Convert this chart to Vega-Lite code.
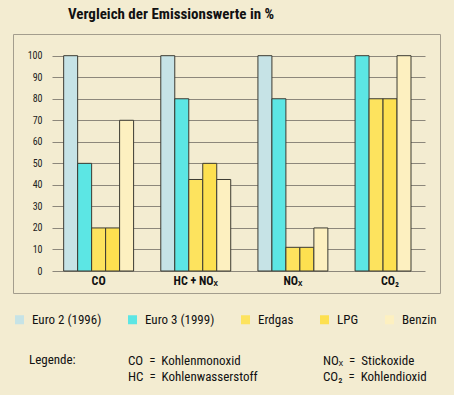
{
  "$schema": "https://vega.github.io/schema/vega-lite/v6.json",
  "width": 427,
  "height": 259,
  "autosize": {"type": "none"},
  "padding": {"left": 13, "top": 34, "right": 14, "bottom": 102},
  "background": "#f3ecd1",
  "title": {
    "text": "Vergleich der Emissionswerte in %",
    "anchor": "start",
    "frame": "group",
    "dx": 55,
    "offset": 12,
    "font": "Liberation Sans Narrow, Roboto Condensed, Arial Narrow, sans-serif",
    "fontSize": 15,
    "fontWeight": "bold",
    "color": "#111111"
  },
  "config": {
    "view": {"fill": "#fdf6ea", "stroke": "#a39d8d", "strokeWidth": 1}
  },
  "layer": [
    {
      "data": {
        "values": [
          {"category": "CO", "series": "Euro 2 (1996)", "value": 100},
          {"category": "CO", "series": "Euro 3 (1999)", "value": 50},
          {"category": "CO", "series": "Erdgas", "value": 20},
          {"category": "CO", "series": "LPG", "value": 20},
          {"category": "CO", "series": "Benzin", "value": 70},
          {"category": "HC + NOₓ", "series": "Euro 2 (1996)", "value": 100},
          {"category": "HC + NOₓ", "series": "Euro 3 (1999)", "value": 80},
          {"category": "HC + NOₓ", "series": "Erdgas", "value": 42.5},
          {"category": "HC + NOₓ", "series": "LPG", "value": 50},
          {"category": "HC + NOₓ", "series": "Benzin", "value": 42.5},
          {"category": "NOₓ", "series": "Euro 2 (1996)", "value": 100},
          {"category": "NOₓ", "series": "Euro 3 (1999)", "value": 80},
          {"category": "NOₓ", "series": "Erdgas", "value": 11},
          {"category": "NOₓ", "series": "LPG", "value": 11},
          {"category": "NOₓ", "series": "Benzin", "value": 20},
          {"category": "CO₂", "series": "Euro 3 (1999)", "value": 100},
          {"category": "CO₂", "series": "Erdgas", "value": 80},
          {"category": "CO₂", "series": "LPG", "value": 80},
          {"category": "CO₂", "series": "Benzin", "value": 100}
        ]
      },
      "transform": [
        {"window": [{"op": "row_number", "as": "slot"}], "groupby": ["category"]}
      ],
      "mark": {"type": "bar", "stroke": "#3b3a32", "strokeWidth": 1},
      "encoding": {
        "x": {
          "field": "category",
          "type": "nominal",
          "sort": null,
          "scale": {"range": [39, 412], "paddingInner": 0.28, "paddingOuter": 0.06, "align": 1},
          "axis": {
            "title": null,
            "domain": false,
            "ticks": false,
            "offset": -22,
            "labelPadding": 4,
            "labelAngle": 0,
            "labelFont": "Liberation Sans Narrow, Roboto Condensed, Arial Narrow, sans-serif",
            "labelFontSize": 12,
            "labelFontWeight": "bold",
            "labelColor": "#111111"
          }
        },
        "xOffset": {"field": "slot", "type": "ordinal", "scale": {"domain": [1, 2, 3, 4, 5]}},
        "y": {
          "field": "value",
          "type": "quantitative",
          "scale": {"domain": [0, 100], "range": [237, 21.7], "nice": false},
          "axis": {
            "title": null,
            "domain": false,
            "ticks": false,
            "offset": -29,
            "labelPadding": 0,
            "tickCount": 10,
            "grid": true,
            "gridColor": "#8c877b",
            "gridOpacity": 1,
            "labelFont": "Liberation Sans Narrow, Roboto Condensed, Arial Narrow, sans-serif",
            "labelFontSize": 10,
            "labelColor": "#222222"
          }
        },
        "color": {
          "field": "series",
          "type": "nominal",
          "scale": {
            "domain": ["Euro 2 (1996)", "Euro 3 (1999)", "Erdgas", "LPG", "Benzin"],
            "range": ["#c6e3e6", "#5ce6e4", "#fde35e", "#fde050", "#fdf0c0"]
          },
          "legend": {
            "orient": "none",
            "legendX": 0,
            "legendY": 279,
            "direction": "horizontal",
            "title": null,
            "symbolType": "square",
            "symbolSize": 81,
            "symbolStrokeWidth": 0,
            "labelFont": "Liberation Sans Narrow, Roboto Condensed, Arial Narrow, sans-serif",
            "labelFontSize": 13,
            "labelOffset": 6,
            "columnPadding": 24,
            "padding": 0,
            "labelColor": "#111111"
          }
        }
      }
    },
    {
      "data": {
        "values": [
          {"abk": "CO\u00a0\u00a0=\u00a0\u00a0Kohlenmonoxid"},
          {"abk": "HC\u00a0\u00a0=\u00a0\u00a0Kohlenwasserstoff"},
          {"abk": "NOₓ\u00a0\u00a0=\u00a0\u00a0Stickoxide"},
          {"abk": "CO₂\u00a0\u00a0=\u00a0\u00a0Kohlendioxid"}
        ]
      },
      "mark": {"type": "point", "opacity": 0},
      "encoding": {
        "shape": {
          "field": "abk",
          "type": "nominal",
          "scale": {
            "domain": ["CO\u00a0\u00a0=\u00a0\u00a0Kohlenmonoxid", "HC\u00a0\u00a0=\u00a0\u00a0Kohlenwasserstoff", "NOₓ\u00a0\u00a0=\u00a0\u00a0Stickoxide", "CO₂\u00a0\u00a0=\u00a0\u00a0Kohlendioxid"],
            "range": ["square"]
          },
          "legend": {
            "orient": "none",
            "legendX": 16,
            "legendY": 320,
            "title": "Legende:",
            "titleOrient": "left",
            "titleAnchor": "start",
            "titleFont": "Liberation Sans Narrow, Roboto Condensed, Arial Narrow, sans-serif",
            "titleFontSize": 13,
            "titleFontWeight": "normal",
            "titleColor": "#111111",
            "titlePadding": 39,
            "columns": 2,
            "columnPadding": 52,
            "rowPadding": 2,
            "symbolSize": 0,
            "symbolOpacity": 0,
            "symbolStrokeWidth": 0,
            "labelOffset": 0,
            "labelFont": "Liberation Sans Narrow, Roboto Condensed, Arial Narrow, sans-serif",
            "labelFontSize": 13,
            "labelColor": "#111111",
            "padding": 0
          }
        }
      }
    }
  ]
}
